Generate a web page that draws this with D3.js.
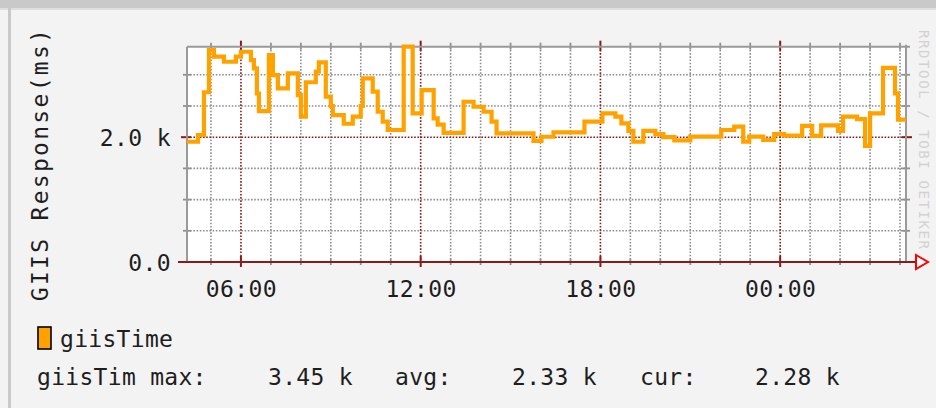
<!DOCTYPE html>
<html><head><meta charset="utf-8">
<script src="https://cdn.jsdelivr.net/npm/d3@7"></script>
<style>
html,body{margin:0;padding:0;background:#f3f3f3;}
svg{display:block;}
text{font-family:"DejaVu Sans Mono",monospace;}
</style></head>
<body>
<svg id="chart" width="936" height="408"></svg>
<script>
// ---- data ----
const times = ["04:12","04:34","04:46","04:56","05:06","05:26","05:50","06:00","06:20","06:26","06:32","06:36",
  "06:56","07:04","07:14","07:34","07:54","08:00","08:10","08:30","08:36","08:50","09:00","09:04","09:26","09:44",
  "10:00","10:04","10:24","10:34","10:44","10:54","11:26","11:44","12:02","12:26","12:34","12:46","13:26","13:46",
  "14:06","14:22","14:32","15:46","16:02","16:26","17:28","18:04","18:30","18:42","18:56","19:06","19:26","19:50",
  "20:06","20:28","21:00","22:02","22:28","22:46","22:58","23:26","23:48","00:08","00:44","01:04","01:22","01:56",
  "02:06","02:34","02:50","03:00","03:26","03:50","03:56"];
const values = [1927,2035,2720,3396,3290,3209,3290,3369,3236,3103,2700,2419,
  3316,2996,2782,3023,2675,2330,2880,3050,3200,2650,2500,2355,2215,2330,
  2500,2943,2730,2408,2248,2115,3450,2382,2755,2300,2200,2070,2568,2488,
  2408,2248,2061,1940,2007,2077,2248,2382,2328,2222,2100,1927,2100,2050,
  2000,1950,2010,2115,2168,1927,2010,1958,2050,2025,2180,2020,2190,2100,
  2328,2290,1860,2382,3110,2703,2280];
const windowEnd = "04:12";           // next day
const yMax = 3450;
const yTickValues = [0, 2000];
const yTickLabels = ["0.0", "2.0 k"];
const yMinorGrid = [500, 1000, 1500, 2500, 3000];
const seriesName = "giisTime";
const statLabels = ["giisTim max:", "avg:", "cur:"];
const statValues = ["3.45 k", "2.33 k", "2.28 k"];
const yTitle = "GIIS Response(ms)";

// ---- parse times with day rollover ----
let day = 0, prev = -1;
function toDate(s){
  const [h,m] = s.split(":").map(Number);
  const mins = h*60+m;
  if (mins < prev) day++;
  prev = mins;
  return new Date(2024,0,1+day,h,m);
}
const data = times.map((t,i)=>({t:toDate(t), v:values[i]}));
const start = data[0].t;
const end = toDate(windowEnd);
if (end <= start) end.setDate(end.getDate()+1);
data.push({t:end, v:values[values.length-1]});

const svg = d3.select("#chart");
const L = 187, R = 906, T = 46.7, B = 262;
const x = d3.scaleTime().domain([start,end]).range([L,R]);
const y = d3.scaleLinear().domain([0,yMax]).range([B,T]);

// background & borders
svg.append("rect").attr("width",936).attr("height",408).attr("fill","#f3f3f3");
svg.append("rect").attr("x",0).attr("y",0).attr("width",936).attr("height",8).attr("fill","#c9c9c9");
svg.append("rect").attr("x",0).attr("y",8).attr("width",936).attr("height",2).attr("fill","#dedede");
svg.append("rect").attr("x",8).attr("y",8).attr("width",3).attr("height",400).attr("fill","#c9c9c9");
svg.append("rect").attr("x",L).attr("y",T).attr("width",R-L).attr("height",B-T).attr("fill","#ffffff");

const hours = d3.timeHour.every(1).range(start, end);
const majors = d3.timeHour.every(6).range(start, end);
const isMajor = d => d.getHours()%6===0;
const dots = "1.6,1.6";

const g = svg.append("g");
// minor vertical grid
g.selectAll("line.vmin").data(hours.filter(d=>!isMajor(d))).join("line")
  .attr("x1",d=>x(d)).attr("x2",d=>x(d)).attr("y1",T).attr("y2",B)
  .attr("stroke","#909090").attr("stroke-width",1.6).attr("stroke-dasharray",dots);
// minor horizontal grid
g.selectAll("line.hmin").data(yMinorGrid).join("line")
  .attr("x1",L).attr("x2",R).attr("y1",d=>y(d)).attr("y2",d=>y(d))
  .attr("stroke","#909090").attr("stroke-width",1.6).attr("stroke-dasharray",dots);
// minor ticks on frame
g.selectAll("line.tt").data(hours.filter(d=>!isMajor(d))).join("line")
  .attr("x1",d=>x(d)).attr("x2",d=>x(d)).attr("y1",T-4).attr("y2",T+3)
  .attr("stroke","#909090").attr("stroke-width",1.8);
g.selectAll("line.tb").data(hours.filter(d=>!isMajor(d))).join("line")
  .attr("x1",d=>x(d)).attr("x2",d=>x(d)).attr("y1",B-3).attr("y2",B+3)
  .attr("stroke","#909090").attr("stroke-width",1.8);
g.selectAll("line.tl").data(yMinorGrid).join("line")
  .attr("x1",L-4).attr("x2",L+4).attr("y1",d=>y(d)).attr("y2",d=>y(d))
  .attr("stroke","#909090").attr("stroke-width",1.8);
g.selectAll("line.tr").data(yMinorGrid).join("line")
  .attr("x1",R-4).attr("x2",R+4).attr("y1",d=>y(d)).attr("y2",d=>y(d))
  .attr("stroke","#909090").attr("stroke-width",1.8);
// major grid
g.selectAll("line.vmaj").data(majors).join("line")
  .attr("x1",d=>x(d)).attr("x2",d=>x(d)).attr("y1",T).attr("y2",B)
  .attr("stroke","#8b1a1a").attr("stroke-width",1.6).attr("stroke-dasharray",dots);
g.selectAll("line.vmajt").data(majors).join("line")
  .attr("x1",d=>x(d)).attr("x2",d=>x(d)).attr("y1",T-6).attr("y2",T+4)
  .attr("stroke","#8b1a1a").attr("stroke-width",2);
g.selectAll("line.vmajb").data(majors).join("line")
  .attr("x1",d=>x(d)).attr("x2",d=>x(d)).attr("y1",B-6).attr("y2",B+5)
  .attr("stroke","#8b1a1a").attr("stroke-width",2);
g.append("line").attr("x1",L).attr("x2",R).attr("y1",y(2000)).attr("y2",y(2000))
  .attr("stroke","#8b1a1a").attr("stroke-width",1.6).attr("stroke-dasharray",dots);
g.append("line").attr("x1",L-6).attr("x2",L+4).attr("y1",y(2000)).attr("y2",y(2000))
  .attr("stroke","#8b1a1a").attr("stroke-width",2);
g.append("line").attr("x1",R-4).attr("x2",R+6).attr("y1",y(2000)).attr("y2",y(2000))
  .attr("stroke","#8b1a1a").attr("stroke-width",2);

// frame
g.append("line").attr("x1",L).attr("x2",R+4).attr("y1",T).attr("y2",T).attr("stroke","#9a9a9a").attr("stroke-width",2);
g.append("line").attr("x1",L).attr("x2",L).attr("y1",T).attr("y2",B).attr("stroke","#9a9a9a").attr("stroke-width",2);
g.append("line").attr("x1",R).attr("x2",R).attr("y1",T-2).attr("y2",B).attr("stroke","#9a9a9a").attr("stroke-width",2);

// data line
const line = d3.line().x(d=>x(d.t)).y(d=>y(d.v)).curve(d3.curveStepAfter);
svg.append("path").datum(data).attr("d",line).attr("fill","none")
  .attr("stroke","#ffa200").attr("stroke-width",4.2).attr("stroke-linejoin","miter");

// watermark
svg.append("text").attr("transform","translate(919,30) rotate(90)").attr("font-size",14)
  .attr("letter-spacing",1.6).attr("fill","#d2d2d2").text("RRDTOOL / TOBI OETIKER");

// x axis line and arrow
svg.append("line").attr("x1",L-9).attr("x2",R+12).attr("y1",B).attr("y2",B)
  .attr("stroke","#8b1a1a").attr("stroke-width",2);
svg.append("path").attr("d",`M${R+10},${B-7} L${R+22},${B} L${R+10},${B+7} Z`)
  .attr("fill","#ffffff").attr("stroke","#ff0000").attr("stroke-width",2);

// axes labels
const xAxis = d3.axisBottom(x).ticks(d3.timeHour.every(6)).tickFormat(d3.timeFormat("%H:%M")).tickSize(0);
const xa = svg.append("g").attr("transform",`translate(0,${B})`).call(xAxis);
xa.select(".domain").remove();
xa.selectAll("text").attr("y",35).attr("dy",0).attr("font-size",23).attr("fill","#1e1e1e")
  .attr("font-family","DejaVu Sans Mono").attr("letter-spacing",0.4);

const yAxis = d3.axisLeft(y).tickValues(yTickValues).tickFormat((d,i)=>yTickLabels[i]).tickSize(0);
const ya = svg.append("g").attr("transform",`translate(171,0)`).call(yAxis);
ya.select(".domain").remove();
ya.selectAll("text").attr("x",0).attr("dy","0.35em").attr("font-size",23).attr("fill","#1e1e1e")
  .attr("font-family","DejaVu Sans Mono").attr("letter-spacing",0.4);

// y title
svg.append("text").attr("transform","translate(48,164) rotate(-90)").attr("text-anchor","middle")
  .attr("font-size",23).attr("letter-spacing",2.3).attr("fill","#1e1e1e").text(yTitle);

// legend
svg.append("rect").attr("x",38).attr("y",327).attr("width",13).attr("height",22)
  .attr("fill","#ffa200").attr("stroke","#000").attr("stroke-width",1.6);
svg.append("text").attr("x",60).attr("y",347).attr("font-size",23).attr("fill","#1e1e1e")
  .attr("letter-spacing",0.3).text(seriesName);
const statX = [[37,268],[395,512],[640,755]];
statLabels.forEach((lab,i)=>{
  svg.append("text").attr("x",statX[i][0]).attr("y",385).attr("font-size",23).attr("fill","#1e1e1e")
    .attr("letter-spacing",0.3).text(lab);
  svg.append("text").attr("x",statX[i][1]).attr("y",385).attr("font-size",23).attr("fill","#1e1e1e")
    .attr("letter-spacing",0.3).text(statValues[i]);
});
</script>
</body></html>
